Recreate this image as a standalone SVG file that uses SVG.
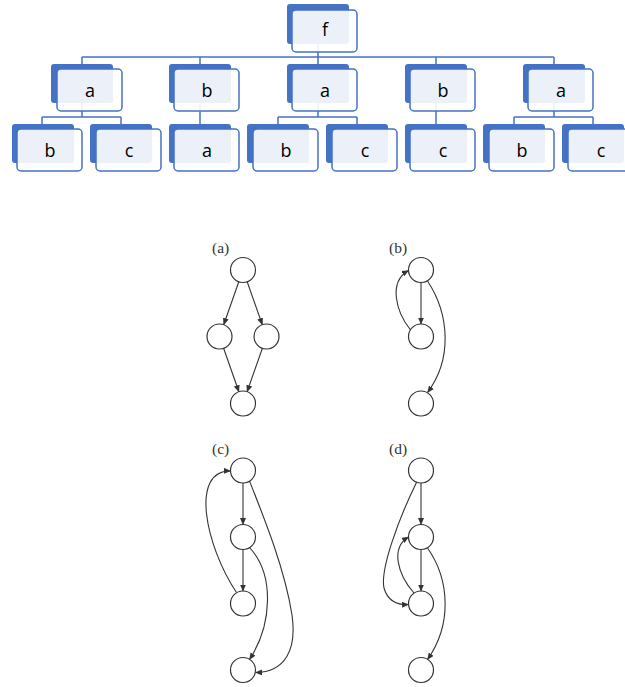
<svg xmlns="http://www.w3.org/2000/svg" width="625" height="687" viewBox="0 0 625 687">
<style>
.sh{fill:#4472C4}
.fr{fill:#fff;fill-opacity:0.9;stroke:#4472C4;stroke-width:1.5}
.lb{font-family:"Open Sans","DejaVu Sans",sans-serif;font-size:18px;fill:#000;text-anchor:middle}
.tc{fill:none;stroke:#4472C4;stroke-width:1.5}
.cr{fill:#fff;stroke:#333;stroke-width:1.2}
.ed{fill:none;stroke:#333;stroke-width:1.1;marker-end:url(#ah)}
.gl{font-family:"Liberation Serif",serif;font-size:15.5px;fill:#333}
</style>
<defs>
<marker id="ah" markerWidth="7" markerHeight="6" refX="6.5" refY="3" orient="auto" markerUnits="userSpaceOnUse">
<path d="M0,0 L7,3 L0,6 Z" fill="#333"/>
</marker>
</defs>
<g id="tree-connectors">
<path class="tc" d="M318,44 V57 M82,57 H554 M82,57 V64 M200,57 V64 M318,57 V64 M436,57 V64 M554,57 V64"/>
<path class="tc" d="M82,103 V117 M42,117 H121 M42,117 V124 M121,117 V124"/>
<path class="tc" d="M200,103 V124"/>
<path class="tc" d="M318,103 V117 M278,117 H357 M278,117 V124 M357,117 V124"/>
<path class="tc" d="M436,103 V124"/>
<path class="tc" d="M554,103 V117 M514,117 H593 M514,117 V124 M593,117 V124"/>
</g>
<g id="t-f"><rect class="sh" x="287" y="4" width="62" height="40" rx="3"/><rect class="fr" x="292" y="10" width="65" height="42" rx="4"/><text class="lb" x="325" y="36">f</text></g>
<g id="t-a1"><rect class="sh" x="51" y="64" width="62" height="39" rx="3"/><rect class="fr" x="57" y="69" width="65" height="42" rx="4"/><text class="lb" x="90" y="97">a</text></g>
<g id="t-b1"><rect class="sh" x="169" y="64" width="62" height="39" rx="3"/><rect class="fr" x="174" y="69" width="65" height="42" rx="4"/><text class="lb" x="207" y="97">b</text></g>
<g id="t-a2"><rect class="sh" x="287" y="64" width="62" height="39" rx="3"/><rect class="fr" x="292" y="69" width="65" height="42" rx="4"/><text class="lb" x="325" y="97">a</text></g>
<g id="t-b2"><rect class="sh" x="405" y="64" width="62" height="39" rx="3"/><rect class="fr" x="410" y="69" width="65" height="42" rx="4"/><text class="lb" x="443" y="97">b</text></g>
<g id="t-a3"><rect class="sh" x="523" y="64" width="62" height="39" rx="3"/><rect class="fr" x="528" y="69" width="65" height="42" rx="4"/><text class="lb" x="561" y="97">a</text></g>
<g id="t-b3"><rect class="sh" x="12" y="124" width="62" height="39" rx="3"/><rect class="fr" x="17" y="129" width="65" height="42" rx="4"/><text class="lb" x="50" y="157">b</text></g>
<g id="t-c1"><rect class="sh" x="90" y="124" width="62" height="39" rx="3"/><rect class="fr" x="96" y="129" width="65" height="42" rx="4"/><text class="lb" x="129" y="157">c</text></g>
<g id="t-a4"><rect class="sh" x="169" y="124" width="62" height="39" rx="3"/><rect class="fr" x="174" y="129" width="65" height="42" rx="4"/><text class="lb" x="207" y="157">a</text></g>
<g id="t-b4"><rect class="sh" x="247" y="124" width="62" height="39" rx="3"/><rect class="fr" x="253" y="129" width="65" height="42" rx="4"/><text class="lb" x="286" y="157">b</text></g>
<g id="t-c2"><rect class="sh" x="326" y="124" width="62" height="39" rx="3"/><rect class="fr" x="332" y="129" width="65" height="42" rx="4"/><text class="lb" x="365" y="157">c</text></g>
<g id="t-c3"><rect class="sh" x="405" y="124" width="62" height="39" rx="3"/><rect class="fr" x="410" y="129" width="65" height="42" rx="4"/><text class="lb" x="443" y="157">c</text></g>
<g id="t-b5"><rect class="sh" x="483" y="124" width="62" height="39" rx="3"/><rect class="fr" x="489" y="129" width="65" height="42" rx="4"/><text class="lb" x="522" y="157">b</text></g>
<g id="t-c4"><rect class="sh" x="562" y="124" width="62" height="39" rx="3"/><rect class="fr" x="568" y="129" width="65" height="42" rx="4"/><text class="lb" x="601" y="157">c</text></g>

<g id="graph-connectors">
<path class="ed" d="M238.8,281.8 L223.7,324.7"/>
<path class="ed" d="M247.2,281.8 L262.3,324.7"/>
<path class="ed" d="M223.6,348.3 L238.9,391.7"/>
<path class="ed" d="M262.4,348.3 L247.1,391.7"/>
<path class="ed" d="M421,282.5 L421,324"/>
<path class="ed" d="M410.5,330 C396,312 388,282 408.5,270.5"/>
<path class="ed" d="M427.5,281 C450,315 452,360 427.5,392.5"/>
<path class="ed" d="M243,483 L243,524.5"/>
<path class="ed" d="M243,549.5 L243,591"/>
<path class="ed" d="M236.5,592.5 C205,545 190,470 230.5,471"/>
<path class="ed" d="M249.5,547.5 C275,575 272,625 249.5,659.5"/>
<path class="ed" d="M249.5,481 C265,520 285,570 292,615 C297,650 285,672 255.5,672.5"/>
<path class="ed" d="M421,483 L421,524.5"/>
<path class="ed" d="M421,549.5 L421,591"/>
<path class="ed" d="M416.5,482.5 C398,520 380,570 384,588 C388,602 398,605 408.5,604.5"/>
<path class="ed" d="M414,593 C398,575 390,548 408.5,537"/>
<path class="ed" d="M427.5,548 C450,580 452,625 427.5,659.5"/>
</g>
<g id="ga">
<text class="gl" x="212" y="253">(a)</text>
<circle class="cr" cx="243" cy="270" r="12.5"/>
<circle class="cr" cx="219.5" cy="336.5" r="12.5"/>
<circle class="cr" cx="266.5" cy="336.5" r="12.5"/>
<circle class="cr" cx="243" cy="403.5" r="12.5"/>
</g>
<g id="gb">
<text class="gl" x="389" y="253">(b)</text>
<circle class="cr" cx="421" cy="270" r="12.5"/>
<circle class="cr" cx="421" cy="336.5" r="12.5"/>
<circle class="cr" cx="421" cy="403.5" r="12.5"/>
</g>
<g id="gc">
<text class="gl" x="212" y="454">(c)</text>
<circle class="cr" cx="243" cy="470.5" r="12.5"/>
<circle class="cr" cx="243" cy="537" r="12.5"/>
<circle class="cr" cx="243" cy="603.5" r="12.5"/>
<circle class="cr" cx="243" cy="670" r="12.5"/>
</g>
<g id="gd">
<text class="gl" x="389" y="454">(d)</text>
<circle class="cr" cx="421" cy="470.5" r="12.5"/>
<circle class="cr" cx="421" cy="537" r="12.5"/>
<circle class="cr" cx="421" cy="603.5" r="12.5"/>
<circle class="cr" cx="421" cy="670" r="12.5"/>
</g>
</svg>
